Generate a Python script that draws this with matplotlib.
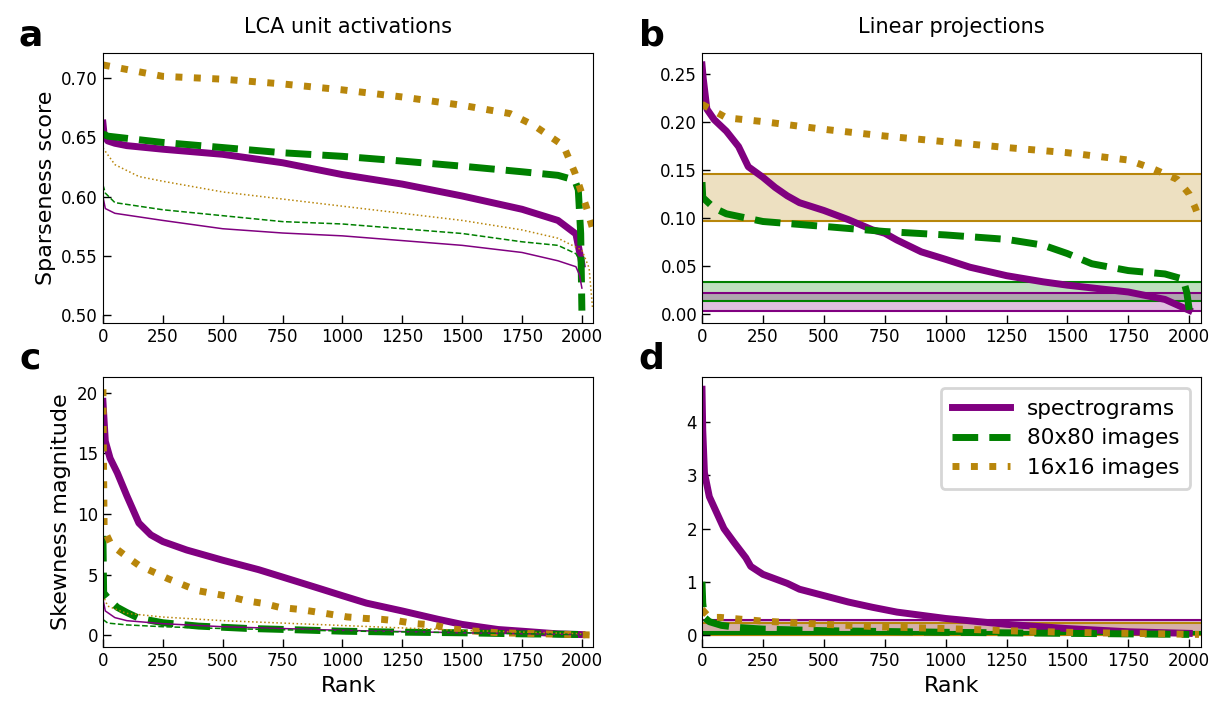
import matplotlib
matplotlib.use('Agg')
import matplotlib.pyplot as plt

# colours for the three datasets
SPEC = 'purple'
IMG80 = 'green'
IMG16 = 'darkgoldenrod'

labels = ['spectrograms', '80x80 images', '16x16 images']

# ---- panel a: LCA sparseness (thick = model, thin = comparison)
a_spec_x = [0, 5, 20, 50, 100, 250, 500, 750, 1000, 1250, 1500, 1750, 1900, 1975, 1995, 2000]
a_spec_y = [0.662, 0.652, 0.647, 0.645, 0.643, 0.640, 0.6357, 0.6286, 0.6186, 0.6106,
            0.6006, 0.5894, 0.580, 0.5686, 0.5486, 0.543]
a_i80_x = [0, 20, 250, 500, 750, 1000, 1250, 1500, 1750, 1900, 1970, 1985, 1995, 2000]
a_i80_y = [0.653, 0.651, 0.6457, 0.6414, 0.637, 0.634, 0.630, 0.6257, 0.621, 0.618,
           0.614, 0.6057, 0.569, 0.504]
a_i16_x = [0, 250, 500, 750, 1000, 1250, 1500, 1700, 1800, 1923, 1971, 2019, 2045]
a_i16_y = [0.711, 0.7014, 0.699, 0.695, 0.690, 0.684, 0.677, 0.670, 0.660, 0.643,
           0.620, 0.591, 0.573]
a_spec_thin_x = [0, 10, 50, 250, 500, 750, 1000, 1250, 1500, 1750, 1900, 1975, 1990, 2000]
a_spec_thin_y = [0.600, 0.590, 0.586, 0.580, 0.573, 0.5694, 0.567, 0.563, 0.559, 0.553,
                 0.546, 0.541, 0.534, 0.523]
a_i80_thin_x = [0, 10, 50, 250, 500, 750, 1000, 1250, 1500, 1750, 1900, 1975, 2000]
a_i80_thin_y = [0.610, 0.603, 0.595, 0.589, 0.584, 0.579, 0.577, 0.573, 0.569, 0.562,
                0.559, 0.552, 0.543]
a_i16_thin_x = [0, 50, 150, 250, 500, 750, 1000, 1250, 1500, 1750, 1900, 2000, 2030, 2045]
a_i16_thin_y = [0.641, 0.627, 0.617, 0.613, 0.604, 0.598, 0.592, 0.586, 0.580, 0.572,
                0.565, 0.555, 0.540, 0.505]

# ---- panel b: linear projections sparseness
b_spec_x = [0, 5, 20, 50, 100, 150, 190, 250, 300, 350, 400, 500, 600, 700, 750, 800,
            900, 1000, 1100, 1250, 1400, 1500, 1750, 1900, 2000]
b_spec_y = [0.259, 0.245, 0.213, 0.202, 0.190, 0.174, 0.153, 0.142, 0.1315, 0.1227,
            0.1156, 0.1075, 0.098, 0.0873, 0.0838, 0.0767, 0.0644, 0.0566, 0.0484,
            0.0396, 0.0332, 0.0297, 0.0226, 0.0149, 0.0035]
b_i80_x = [0, 3, 20, 50, 100, 250, 500, 750, 1000, 1250, 1400, 1500, 1600, 1750, 1900,
           1975, 1990, 2000]
b_i80_y = [0.137, 0.121, 0.117, 0.110, 0.104, 0.096, 0.0909, 0.0856, 0.082, 0.0774,
           0.0714, 0.0626, 0.052, 0.0449, 0.0414, 0.036, 0.022, 0.004]
b_i16_x = [0, 100, 250, 500, 750, 1000, 1250, 1500, 1750, 1850, 1950, 2000, 2025, 2045]
b_i16_y = [0.218, 0.204, 0.200, 0.192, 0.185, 0.179, 0.173, 0.1676, 0.160, 0.151,
           0.140, 0.1245, 0.110, 0.096]
# shaded ranges (low, high)
b_spec_band = (0.0032, 0.0215)
b_i80_band = (0.0128, 0.0326)
b_i16_band = (0.096, 0.1457)

# ---- panel c: LCA skewness
c_spec_x = [0, 10, 30, 60, 100, 150, 200, 250, 350, 500, 650, 750, 900, 1000, 1100,
            1250, 1400, 1500, 1650, 1750, 1900, 2000]
c_spec_y = [19.3, 16.0, 14.6, 13.4, 11.5, 9.26, 8.28, 7.73, 7.03, 6.19, 5.41, 4.8, 3.88,
            3.26, 2.65, 2.0, 1.31, 0.89, 0.47, 0.33, 0.11, 0.05]
c_i80_x = [0, 3, 30, 60, 100, 150, 250, 400, 600, 800, 1000, 1250, 1500, 1750, 2000]
c_i80_y = [8.2, 3.5, 2.85, 2.3, 1.87, 1.4, 1.03, 0.75, 0.56, 0.45, 0.33, 0.25, 0.2,
           0.11, 0.06]
c_i16_x = [0, 2, 5, 35, 100, 150, 272, 395, 531, 598, 672, 739, 811, 880, 950, 1019,
           1091, 1163, 1235, 1307, 1379, 1443, 1515, 1651, 1971, 2040]
c_i16_y = [20.3, 15.0, 8.7, 7.45, 6.47, 5.77, 4.66, 3.68, 3.18, 2.84, 2.62, 2.29, 2.15,
           1.95, 1.73, 1.51, 1.39, 1.31, 1.17, 0.95, 0.85, 0.56, 0.39, 0.2, 0.05, 0.02]
c_spec_thin_x = [0, 10, 50, 100, 250, 500, 1000, 1500, 2000]
c_spec_thin_y = [3.0, 2.0, 1.45, 1.2, 0.95, 0.7, 0.4, 0.2, 0.05]
c_i80_thin_x = [0, 20, 100, 250, 500, 1000, 1500, 2000]
c_i80_thin_y = [1.3, 1.0, 0.85, 0.7, 0.55, 0.35, 0.2, 0.05]
c_i16_thin_x = [0, 20, 100, 250, 500, 750, 1000, 1500, 2040]
c_i16_thin_y = [3.3, 2.4, 1.8, 1.5, 1.2, 1.0, 0.8, 0.4, 0.1]

# ---- panel d: linear projections skewness
d_spec_x = [0, 3, 10, 30, 60, 90, 130, 180, 200, 250, 350, 400, 500, 600, 700, 800,
            1000, 1250, 1500, 1750, 2000]
d_spec_y = [4.62, 3.85, 3.05, 2.6, 2.3, 2.0, 1.75, 1.45, 1.29, 1.14, 0.97, 0.86, 0.74,
            0.62, 0.52, 0.43, 0.31, 0.2, 0.12, 0.06, 0.03]
d_i80_x = [0, 3, 10, 30, 80, 150, 250, 500, 1000, 1500, 2000]
d_i80_y = [1.0, 0.6, 0.33, 0.25, 0.18, 0.14, 0.11, 0.08, 0.05, 0.03, 0.01]
d_i16_x = [0, 30, 75, 150, 250, 500, 750, 1000, 1250, 1500, 1750, 2040]
d_i16_y = [0.48, 0.33, 0.33, 0.30, 0.26, 0.20, 0.15, 0.12, 0.08, 0.05, 0.03, 0.01]
d_spec_band = (0.0, 0.29)
d_i80_band = (0.01, 0.06)
d_i16_band = (0.005, 0.22)

X_MAX = 2048
THICK = 5
THIN = 1.1


def style_axis(ax):
    ax.tick_params(direction='in', length=6, width=1, labelsize=12,
                   top=False, right=False)
    ax.set_xlim(0, X_MAX)
    ax.set_xticks([0, 250, 500, 750, 1000, 1250, 1500, 1750, 2000])


def draw_band(ax, band, color):
    lo, hi = band
    ax.axhspan(lo, hi, facecolor=color, alpha=0.25, lw=0, zorder=0.5)
    ax.axhline(lo, color=color, lw=1.5, zorder=0.6)
    ax.axhline(hi, color=color, lw=1.5, zorder=0.6)


fig = plt.figure(figsize=(12.11, 7.02), dpi=100)
ax_a = fig.add_axes([0.085, 0.540, 0.405, 0.385])
ax_b = fig.add_axes([0.5797, 0.540, 0.412, 0.385])
ax_c = fig.add_axes([0.085, 0.078, 0.405, 0.385])
ax_d = fig.add_axes([0.5797, 0.078, 0.412, 0.385])

# a
ax_a.plot(a_spec_x, a_spec_y, color=SPEC, lw=THICK, ls='-')
ax_a.plot(a_i80_x, a_i80_y, color=IMG80, lw=THICK, ls='--')
ax_a.plot(a_i16_x, a_i16_y, color=IMG16, lw=THICK, ls=':')
ax_a.plot(a_spec_thin_x, a_spec_thin_y, color=SPEC, lw=THIN, ls='-')
ax_a.plot(a_i80_thin_x, a_i80_thin_y, color=IMG80, lw=THIN, ls='--')
ax_a.plot(a_i16_thin_x, a_i16_thin_y, color=IMG16, lw=THIN, ls=':')
ax_a.set_title('LCA unit activations', fontsize=15, pad=14)
ax_a.set_ylabel('Sparseness score', fontsize=16)

# b
draw_band(ax_b, b_i16_band, IMG16)
draw_band(ax_b, b_i80_band, IMG80)
draw_band(ax_b, b_spec_band, SPEC)
ax_b.plot(b_spec_x, b_spec_y, color=SPEC, lw=THICK, ls='-')
ax_b.plot(b_i80_x, b_i80_y, color=IMG80, lw=THICK, ls='--')
ax_b.plot(b_i16_x, b_i16_y, color=IMG16, lw=THICK, ls=':')
ax_b.set_title('Linear projections', fontsize=15, pad=14)

# c
ax_c.plot(c_spec_x, c_spec_y, color=SPEC, lw=THICK, ls='-')
ax_c.plot(c_i80_x, c_i80_y, color=IMG80, lw=THICK, ls='--')
ax_c.plot(c_i16_x, c_i16_y, color=IMG16, lw=THICK, ls=':')
ax_c.plot(c_spec_thin_x, c_spec_thin_y, color=SPEC, lw=THIN, ls='-')
ax_c.plot(c_i80_thin_x, c_i80_thin_y, color=IMG80, lw=THIN, ls='--')
ax_c.plot(c_i16_thin_x, c_i16_thin_y, color=IMG16, lw=THIN, ls=':')
ax_c.set_ylabel('Skewness magnitude', fontsize=16)
ax_c.set_xlabel('Rank', fontsize=16)

# d
draw_band(ax_d, d_spec_band, SPEC)
draw_band(ax_d, d_i16_band, IMG16)
draw_band(ax_d, d_i80_band, IMG80)
ax_d.plot(d_spec_x, d_spec_y, color=SPEC, lw=THICK, ls='-', label=labels[0])
ax_d.plot(d_i80_x, d_i80_y, color=IMG80, lw=THICK, ls='--', label=labels[1])
ax_d.plot(d_i16_x, d_i16_y, color=IMG16, lw=THICK, ls=':', label=labels[2])
ax_d.set_xlabel('Rank', fontsize=16)
ax_d.set_yticks([0, 1, 2, 3, 4])
leg = ax_d.legend(loc='upper right', fontsize=15.5, handlelength=2.7,
                  fancybox=True, borderpad=0.5, labelspacing=0.45)
leg.get_frame().set_linewidth(2)
leg.get_frame().set_edgecolor('0.8')

for ax in (ax_a, ax_b, ax_c, ax_d):
    style_axis(ax)

ax_a.set_yticks([0.50, 0.55, 0.60, 0.65, 0.70])
ax_b.set_yticks([0.00, 0.05, 0.10, 0.15, 0.20, 0.25])
ax_c.set_yticks([0, 5, 10, 15, 20])

# panel letters
for txt, xx, yy in [('a', 0.025, 0.95), ('b', 0.538, 0.95),
                    ('c', 0.025, 0.49), ('d', 0.538, 0.49)]:
    fig.text(xx, yy, txt, fontsize=26, fontweight='bold', ha='center', va='center')

fig.savefig('out.png', dpi=100)
